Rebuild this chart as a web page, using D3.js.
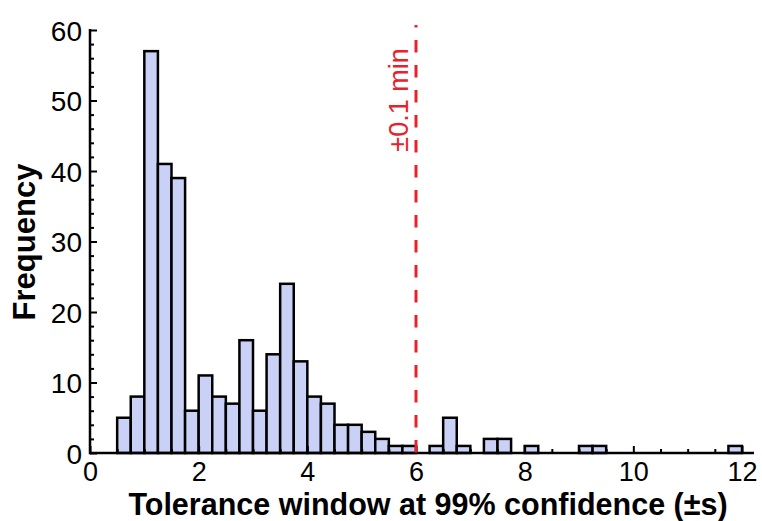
<!DOCTYPE html>
<html>
<head>
<meta charset="utf-8">
<script src="https://cdn.jsdelivr.net/npm/d3@7"></script>
<style>
  html, body { margin: 0; padding: 0; background: #fff; }
  svg { display: block; }
  text { font-family: "Liberation Sans", Arial, sans-serif; }
</style>
</head>
<body>
<svg id="chart" width="762" height="521"></svg>
<script>
// Histogram bins: lower edge of each bin (width 0.25 s) and its count
const binLower = [0.5, 0.75, 1.0, 1.25, 1.5, 1.75, 2.0, 2.25, 2.5, 2.75,
                  3.0, 3.25, 3.5, 3.75, 4.0, 4.25, 4.5, 4.75, 5.0, 5.25,
                  5.5, 5.75, 6.0, 6.25, 6.5, 6.75, 7.0, 7.25, 7.5, 7.75,
                  8.0, 8.25, 8.5, 8.75, 9.0, 9.25, 9.5, 9.75, 10.0, 10.25,
                  10.5, 10.75, 11.0, 11.25, 11.5, 11.75];
const binUpper = [0.75, 1.0, 1.25, 1.5, 1.75, 2.0, 2.25, 2.5, 2.75, 3.0,
                  3.25, 3.5, 3.75, 4.0, 4.25, 4.5, 4.75, 5.0, 5.25, 5.5,
                  5.75, 6.0, 6.25, 6.5, 6.75, 7.0, 7.25, 7.5, 7.75, 8.0,
                  8.25, 8.5, 8.75, 9.0, 9.25, 9.5, 9.75, 10.0, 10.25, 10.5,
                  10.75, 11.0, 11.25, 11.5, 11.75, 12.0];
const counts   = [5, 8, 57, 41, 39, 6, 11, 8, 7, 16,
                  6, 14, 24, 13, 8, 7, 4, 4, 3, 2,
                  1, 1, 0, 1, 5, 1, 0, 2, 2, 0,
                  1, 0, 0, 0, 1, 1, 0, 0, 0, 0,
                  0, 0, 0, 0, 0, 1];

const xMajorTicks = [0, 2, 4, 6, 8, 10, 12];
const yMajorTicks = [0, 10, 20, 30, 40, 50, 60];
const xLimit = 12.22;
const yLimit = 60;
const thresholdX = 6;
const thresholdLabel = "±0.1 min";
const xTitle = "Tolerance window at 99% confidence (±s)";
const yTitle = "Frequency";

const svg = d3.select("#chart");
const x = d3.scaleLinear().domain([0, 12]).range([90, 742]);
const y = d3.scaleLinear().domain([0, 60]).range([453, 30]);

const bins = binLower.map((lo, i) => ({ lo, hi: binUpper[i], n: counts[i] }))
                     .filter(d => d.n > 0);

// bars
svg.append("g")
  .selectAll("rect")
  .data(bins)
  .join("rect")
  .attr("x", d => x(d.lo))
  .attr("y", d => y(d.n))
  .attr("width", d => x(d.hi) - x(d.lo))
  .attr("height", d => y(0) - y(d.n))
  .attr("fill", "#c9d2f6")
  .attr("stroke", "#000")
  .attr("stroke-width", 2.5);

// minor ticks (x every 0.5, y every 2)
const xMinor = d3.range(0, 12.001, 0.5).filter(v => !xMajorTicks.includes(v));
const yMinor = d3.range(0, 60.001, 2).filter(v => !yMajorTicks.includes(v));

svg.append("g")
  .attr("transform", `translate(0,${y(0)})`)
  .call(d3.axisBottom(x).tickValues(xMinor).tickSize(-4).tickFormat(""));
const xAxis = svg.append("g")
  .attr("transform", `translate(0,${y(0)})`)
  .call(d3.axisBottom(x).tickValues(xMajorTicks).tickSize(-7).tickPadding(0).tickFormat(d3.format("d")));
svg.append("g")
  .attr("transform", `translate(${x(0)},0)`)
  .call(d3.axisLeft(y).tickValues(yMinor).tickSize(-4).tickFormat(""));
const yAxis = svg.append("g")
  .attr("transform", `translate(${x(0)},0)`)
  .call(d3.axisLeft(y).tickValues(yMajorTicks).tickSize(-7).tickPadding(0).tickFormat(d3.format("d")));

svg.selectAll(".domain").remove();
svg.selectAll(".tick line").attr("stroke", "#000").attr("stroke-width", 2);

xAxis.selectAll(".tick text")
  .attr("y", 28)
  .attr("dy", null)
  .attr("font-size", 27)
  .attr("fill", "#000");
yAxis.selectAll(".tick text")
  .attr("x", -8)
  .attr("dy", "0.36em")
  .attr("font-size", 28)
  .attr("fill", "#000");

// axis lines
svg.append("line")
  .attr("x1", x(0)).attr("x2", x(xLimit))
  .attr("y1", y(0)).attr("y2", y(0))
  .attr("stroke", "#000").attr("stroke-width", 2.5);
svg.append("line")
  .attr("x1", x(0)).attr("x2", x(0))
  .attr("y1", y(0) + 1.25).attr("y2", y(yLimit) - 1)
  .attr("stroke", "#000").attr("stroke-width", 2.5);

// threshold line
svg.append("line")
  .attr("x1", x(thresholdX)).attr("x2", x(thresholdX))
  .attr("y1", 25).attr("y2", y(0))
  .attr("stroke", "#e8222b")
  .attr("stroke-width", 3)
  .attr("stroke-dasharray", "12.5 12.5")
  .attr("stroke-dashoffset", 10);

svg.append("text")
  .attr("transform", `translate(${x(thresholdX) - 8},100) rotate(-90)`)
  .attr("text-anchor", "middle")
  .attr("font-size", 27)
  .attr("fill", "#e8222b")
  .text(thresholdLabel);

// axis titles
svg.append("text")
  .attr("x", 428).attr("y", 515)
  .attr("text-anchor", "middle")
  .attr("font-size", 30.5)
  .attr("font-weight", "bold")
  .attr("fill", "#000")
  .text(xTitle);

svg.append("text")
  .attr("transform", "translate(35,242) rotate(-90)")
  .attr("text-anchor", "middle")
  .attr("font-size", 31)
  .attr("font-weight", "bold")
  .attr("fill", "#000")
  .text(yTitle);
</script>
</body>
</html>
